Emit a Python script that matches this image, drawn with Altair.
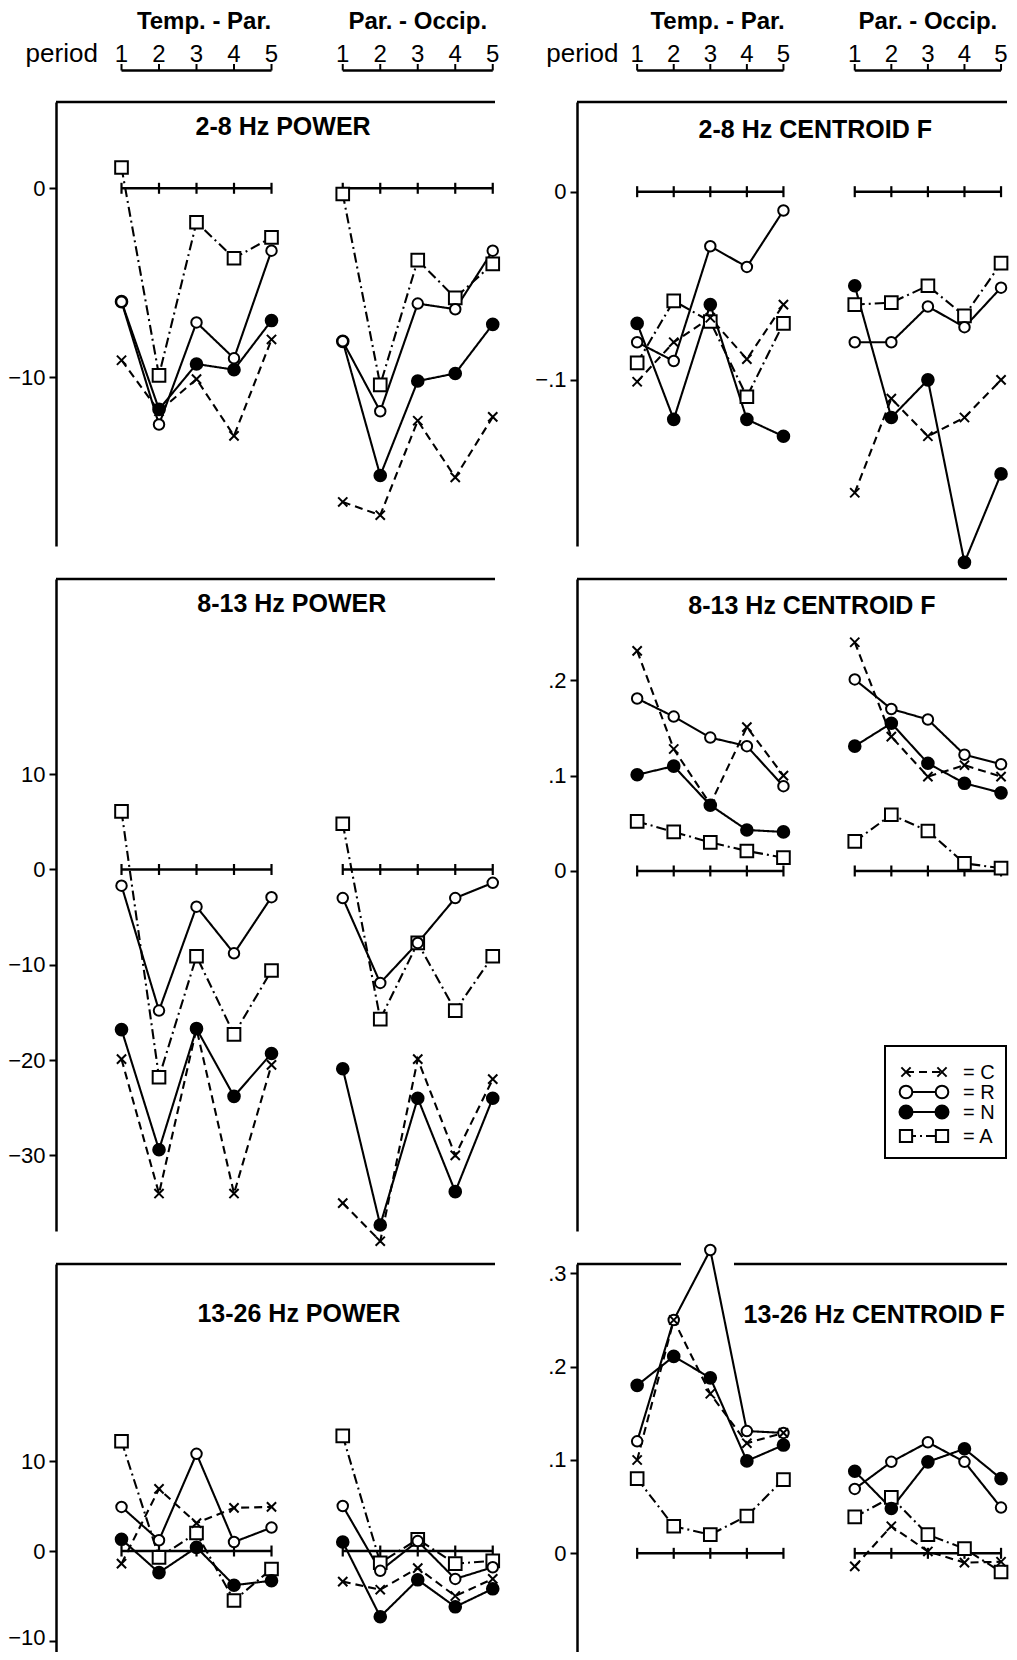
import altair as alt
import pandas as pd

PERIODS = [1, 2, 3, 4, 5]
SERIES = ["C", "R", "N", "A"]
DRAW_ORDER = ["A", "N", "R", "C"]

# ---------------- data ----------------
# 2-8 Hz POWER
POW28_TP = {"C": [-9.1, -11.8, -10.1, -13.1, -8.0],
            "R": [-6.0, -12.5, -7.1, -9.0, -3.3],
            "N": [-6.0, -11.7, -9.3, -9.6, -7.0],
            "A": [1.1, -9.9, -1.8, -3.7, -2.6]}
POW28_PO = {"C": [-16.6, -17.3, -12.3, -15.3, -12.1],
            "R": [-8.1, -11.8, -6.1, -6.4, -3.3],
            "N": [-8.1, -15.2, -10.2, -9.8, -7.2],
            "A": [-0.3, -10.4, -3.8, -5.8, -4.0]}
# 2-8 Hz CENTROID F
CEN28_TP = {"C": [-0.101, -0.080, -0.067, -0.089, -0.060],
            "R": [-0.080, -0.090, -0.029, -0.040, -0.010],
            "N": [-0.070, -0.121, -0.060, -0.121, -0.130],
            "A": [-0.091, -0.058, -0.069, -0.109, -0.070]}
CEN28_PO = {"C": [-0.160, -0.110, -0.130, -0.120, -0.100],
            "R": [-0.080, -0.080, -0.061, -0.072, -0.051],
            "N": [-0.050, -0.120, -0.100, -0.197, -0.150],
            "A": [-0.060, -0.059, -0.050, -0.066, -0.038]}
# 8-13 Hz POWER
POW813_TP = {"C": [-19.9, -34.0, -16.7, -34.0, -20.5],
             "R": [-1.7, -14.8, -3.9, -8.8, -2.9],
             "N": [-16.8, -29.4, -16.7, -23.8, -19.3],
             "A": [6.1, -21.8, -9.1, -17.3, -10.6]}
POW813_PO = {"C": [-35.0, -39.0, -19.9, -30.0, -22.0],
             "R": [-3.0, -11.9, -7.7, -3.0, -1.4],
             "N": [-20.9, -37.3, -24.0, -33.8, -24.0],
             "A": [4.8, -15.7, -7.7, -14.8, -9.1]}
# 8-13 Hz CENTROID F
CEN813_TP = {"C": [0.231, 0.128, 0.070, 0.151, 0.100],
             "R": [0.181, 0.162, 0.140, 0.131, 0.089],
             "N": [0.101, 0.110, 0.069, 0.043, 0.041],
             "A": [0.052, 0.041, 0.030, 0.021, 0.014]}
CEN813_PO = {"C": [0.240, 0.141, 0.099, 0.111, 0.099],
             "R": [0.201, 0.170, 0.159, 0.122, 0.112],
             "N": [0.131, 0.155, 0.113, 0.092, 0.082],
             "A": [0.031, 0.059, 0.042, 0.008, 0.003]}
# 13-26 Hz POWER
POW1326_TP = {"C": [-1.4, 6.9, 3.1, 4.8, 4.9],
              "R": [4.9, 1.2, 10.8, 1.0, 2.6],
              "N": [1.3, -2.4, 0.4, -3.8, -3.3],
              "A": [12.2, -0.7, 2.0, -5.5, -2.0]}
POW1326_PO = {"C": [-3.4, -4.3, -1.9, -5.0, -3.1],
              "R": [5.0, -2.2, 1.1, -3.1, -1.8],
              "N": [1.0, -7.3, -3.2, -6.2, -4.2],
              "A": [12.8, -1.3, 1.3, -1.4, -1.1]}
# 13-26 Hz CENTROID F
CEN1326_TP = {"C": [0.100, 0.250, 0.171, 0.118, 0.129],
              "R": [0.120, 0.250, 0.325, 0.131, 0.129],
              "N": [0.180, 0.211, 0.188, 0.099, 0.116],
              "A": [0.080, 0.029, 0.020, 0.040, 0.079]}
CEN1326_PO = {"C": [-0.014, 0.029, 0.002, -0.010, -0.009],
              "R": [0.069, 0.098, 0.119, 0.098, 0.049],
              "N": [0.088, 0.048, 0.098, 0.112, 0.080],
              "A": [0.039, 0.060, 0.020, 0.005, -0.020]}

GROUP_TITLES = ["Temp. - Par.", "Par. - Occip."]
LEGEND_LABELS = {"C": "= C", "R": "= R", "N": "= N", "A": "= A"}

# ---------------- styling / layout ----------------
FONT = "Liberation Sans"
X_PATH = "M-1,-1L1,1M-1,1L1,-1"
SHAPES = {"C": X_PATH, "R": "circle", "N": "circle", "A": "square"}
FILLS = {"C": "white", "R": "white", "N": "black", "A": "white"}
SIZES = {"C": 85, "R": 160, "N": 170, "A": 150}
DASHES = {"C": [8, 5], "R": [1, 0], "N": [1, 0], "A": [10, 4, 2, 4]}

SHAPE_SCALE = alt.Scale(domain=SERIES, range=[SHAPES[s] for s in SERIES])
FILL_SCALE = alt.Scale(domain=SERIES, range=[FILLS[s] for s in SERIES])
SIZE_SCALE = alt.Scale(domain=SERIES, range=[SIZES[s] for s in SERIES])
DASH_SCALE = alt.Scale(domain=SERIES, range=[DASHES[s] for s in SERIES])

COLS = {
    "left": dict(width=439, xdom=[-0.747, 10.96], off=5.9, period_x=0.37, title_x=3.2),
    "right": dict(width=430, xdom=[-0.645, 11.113], off=5.95, period_x=0.49, title_x=3.2),
}
HEADER_H = 61
LABEL_EXPR = ("datum.value == 0 ? '0' : replace(replace(replace(format(datum.value, '~g'), "
              "'-', '\u2212'), '0.', '.'), '\u22120.', '\u2212.')")

ONE = pd.DataFrame({"k": [0]})


def long_df(d_tp, d_po, off):
    rows = []
    for s in DRAW_ORDER:
        for g, d, o in (("TP", d_tp, 0.0), ("PO", d_po, off)):
            for p, v in zip(PERIODS, d[s]):
                rows.append({"series": s, "grp": g, "key": s + g, "x": p + o, "value": v})
    return pd.DataFrame(rows)


def panel(d_tp, d_po, col, height, ydom, yticks, title, title_x, title_y,
          title_align="center", border_gap=None, legend=False, lift_label=None):
    c = COLS[col]
    off, W = c["off"], c["width"]
    xs = alt.Scale(domain=c["xdom"], nice=False, zero=False)
    ys = alt.Scale(domain=ydom, nice=False, zero=False)
    axis_kw = dict(values=yticks, labelExpr=LABEL_EXPR, title=None, grid=False,
                   domainColor="black", domainWidth=2.5, tickColor="black",
                   tickWidth=2, tickSize=7, labelFont=FONT, labelFontSize=22,
                   labelColor="black", labelPadding=4)
    if lift_label is not None:
        axis_kw["labelOffset"] = {"condition": {"test": f"datum.value == {lift_label}",
                                                "value": -4}, "value": 0}
    yaxis = alt.Axis(**axis_kw)

    def X(f):
        return alt.X(f, type="quantitative", scale=xs, axis=None)

    def Y(f):
        return alt.Y(f, type="quantitative", scale=ys, axis=yaxis)

    y0 = alt.YDatum(0, type="quantitative", scale=ys, axis=yaxis)
    df = long_df(d_tp, d_po, off)
    zero_df = pd.DataFrame({"x1": [1, 1 + off], "x2": [5, 5 + off]})
    tick_df = pd.DataFrame({"x": PERIODS + [p + off for p in PERIODS]})

    layers = []
    if border_gap is None:
        layers.append(alt.Chart(ONE).mark_rule(color="black", strokeWidth=2.5).encode(
            x=alt.value(0), x2=alt.value(W), y=alt.value(0)))
    else:
        layers.append(alt.Chart(ONE).mark_rule(color="black", strokeWidth=2.5).encode(
            x=alt.value(0), x2=alt.value(border_gap[0]), y=alt.value(0)))
        layers.append(alt.Chart(ONE).mark_rule(color="black", strokeWidth=2.5).encode(
            x=alt.value(border_gap[1]), x2=alt.value(W), y=alt.value(0)))

    layers.append(alt.Chart(zero_df).mark_rule(color="black", strokeWidth=2.5).encode(
        x=X("x1"), x2=alt.X2("x2"), y=y0))
    layers.append(alt.Chart(tick_df).mark_tick(orient="vertical", size=11, thickness=2.2,
                                               color="black", opacity=1).encode(
        x=X("x"), y=y0))
    layers.append(alt.Chart(df).mark_line(color="black", strokeWidth=2.1).encode(
        x=X("x"), y=Y("value"), detail="key:N",
        strokeDash=alt.StrokeDash("series:N", scale=DASH_SCALE, legend=None)))
    layers.append(alt.Chart(df).mark_point(filled=True, stroke="black", strokeWidth=2,
                                           opacity=1).encode(
        x=X("x"), y=Y("value"),
        shape=alt.Shape("series:N", scale=SHAPE_SCALE, legend=None),
        fill=alt.Fill("series:N", scale=FILL_SCALE, legend=None),
        size=alt.Size("series:N", scale=SIZE_SCALE, legend=None)))
    layers.append(alt.Chart(ONE).mark_text(text=title, font=FONT, fontSize=25, fontWeight="bold",
                                           align=title_align, baseline="alphabetic",
                                           color="black").encode(
        x=alt.XDatum(title_x, type="quantitative", scale=xs, axis=None), y=alt.value(title_y)))

    if legend:
        bx0, bx1, by0, by1 = 308, 429, 467, 579
        rows_y = [493, 513, 533, 557]
        mx0, mx1, tx = 329, 365, 386
        layers.append(alt.Chart(ONE).mark_rect(fill="white", stroke="black", strokeWidth=2).encode(
            x=alt.value(bx0), x2=alt.value(bx1), y=alt.value(by0), y2=alt.value(by1)))
        for s, ry in zip(SERIES, rows_y):
            layers.append(alt.Chart(ONE).mark_rule(color="black", strokeWidth=2,
                                                   strokeDash=DASHES[s]).encode(
                x=alt.value(mx0), x2=alt.value(mx1), y=alt.value(ry)))
            for mx in (mx0, mx1):
                layers.append(alt.Chart(ONE).mark_point(shape=SHAPES[s], filled=True,
                                                        fill=FILLS[s], stroke="black",
                                                        strokeWidth=2, size=SIZES[s],
                                                        opacity=1).encode(
                    x=alt.value(mx), y=alt.value(ry)))
            layers.append(alt.Chart(ONE).mark_text(text=LEGEND_LABELS[s], font=FONT, fontSize=20,
                                                   align="left", baseline="middle",
                                                   color="black").encode(
                x=alt.value(tx), y=alt.value(ry + 1)))

    return alt.layer(*layers).properties(width=W, height=height)


def header(col):
    c = COLS[col]
    off, W = c["off"], c["width"]
    xs = alt.Scale(domain=c["xdom"], nice=False, zero=False)

    def X(f):
        return alt.X(f, type="quantitative", scale=xs, axis=None)

    titles = pd.DataFrame({"x": [c["title_x"], 3 + off], "label": GROUP_TITLES})
    nums = pd.DataFrame({"x": PERIODS + [p + off for p in PERIODS],
                         "label": [str(p) for p in PERIODS] * 2})
    lines = pd.DataFrame({"x1": [1, 1 + off], "x2": [5, 5 + off]})

    t = alt.Chart(titles).mark_text(font=FONT, fontSize=24, fontWeight="bold", align="center",
                                    baseline="alphabetic", color="black").encode(
        x=X("x"), y=alt.value(21), text="label:N")
    per = alt.Chart(ONE).mark_text(text="period", font=FONT, fontSize=26, align="right",
                                   baseline="alphabetic", color="black").encode(
        x=alt.XDatum(c["period_x"], type="quantitative", scale=xs, axis=None), y=alt.value(54))
    n = alt.Chart(nums).mark_text(font=FONT, fontSize=24, align="center",
                                  baseline="alphabetic", color="black").encode(
        x=X("x"), y=alt.value(54), text="label:N")
    ln = alt.Chart(lines).mark_rule(color="black", strokeWidth=2.5).encode(
        x=X("x1"), x2=alt.X2("x2"), y=alt.value(62.5))
    tk = alt.Chart(nums).mark_rule(color="black", strokeWidth=2).encode(
        x=X("x"), y=alt.value(56), y2=alt.value(62.5))
    return alt.layer(t, per, n, ln, tk).properties(width=W, height=HEADER_H)


p1 = panel(POW28_TP, POW28_PO, "left", 444, [-18.93, 4.566], [-10, 0],
           "2-8 Hz POWER", 5.31, 33)
p2 = panel(CEN28_TP, CEN28_PO, "right", 444, [-0.1883, 0.04766], [-0.1, 0],
           "2-8 Hz CENTROID F", 5.87, 36)
p3 = panel(POW813_TP, POW813_PO, "left", 652, [-37.93, 30.48], [-30, -20, -10, 0, 10],
           "8-13 Hz POWER", 5.54, 33)
p4 = panel(CEN813_TP, CEN813_PO, "right", 652, [-0.3778, 0.3064], [0, 0.1, 0.2],
           "8-13 Hz CENTROID F", 5.78, 35, legend=True)
p5 = panel(POW1326_TP, POW1326_PO, "left", 396, [-12.11, 31.89], [-10, 0, 10],
           "13-26 Hz POWER", 5.73, 58, lift_label=-10)
p6 = panel(CEN1326_TP, CEN1326_PO, "right", 396, [-0.1143, 0.310], [0, 0.1, 0.2, 0.3],
           "13-26 Hz CENTROID F", 3.91, 59, title_align="left", border_gap=(104, 157))

chart = alt.concat(
    header("left"), header("right"), p1, p2, p3, p4, p5, p6,
    columns=2, spacing={"row": 33, "column": 82}, bounds="flush", align="each",
).properties(
    autosize=alt.AutoSizeParams(type="none"),
    padding={"left": 48, "top": 0, "right": 953, "bottom": 1644},
).configure(background="white").configure_view(stroke=None)

chart.save("out.html", embed_options={"renderer": "svg", "actions": False})
